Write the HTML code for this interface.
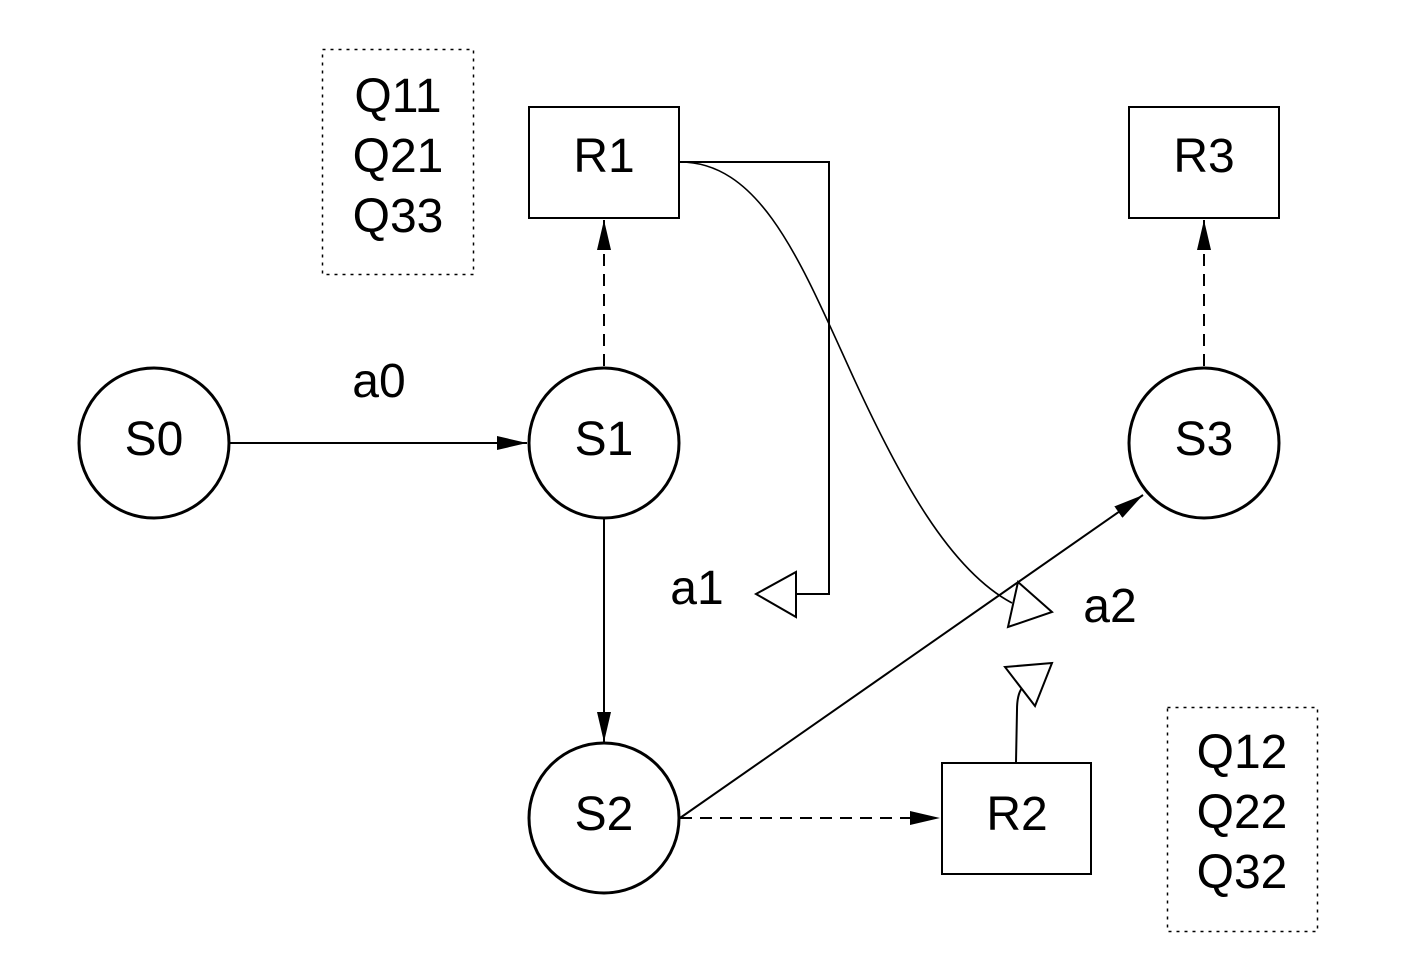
<!DOCTYPE html>
<html><head><meta charset="utf-8"><style>
html,body{margin:0;padding:0;background:#fff}
svg{display:block}
text{font-family:"Liberation Sans",sans-serif;font-size:48px;fill:#000}
</style></head><body>
<svg width="1403" height="975" viewBox="0 0 1403 975" xmlns="http://www.w3.org/2000/svg">
<defs>
<marker id="ah" markerWidth="30" markerHeight="14" refX="30" refY="7" orient="auto" markerUnits="userSpaceOnUse">
<path d="M0,0 L30,7 L0,14 Z" fill="#000"/>
</marker>
</defs>
<g fill="none" stroke="#000">
<circle cx="154" cy="443" r="75" stroke-width="3"/>
<circle cx="604" cy="443" r="75" stroke-width="3"/>
<circle cx="604" cy="818" r="75" stroke-width="3"/>
<circle cx="1204" cy="443" r="75" stroke-width="3"/>
<rect x="529" y="107" width="150" height="111" stroke-width="2"/>
<rect x="1129" y="107" width="150" height="111" stroke-width="2"/>
<rect x="942" y="763" width="149" height="111" stroke-width="2"/>
<rect x="322.5" y="49.5" width="151" height="225" stroke-width="1.5" stroke-dasharray="3,5"/>
<rect x="1167.5" y="707.5" width="150" height="224" stroke-width="1.5" stroke-dasharray="3,5"/>
<line x1="230" y1="443" x2="527" y2="443" stroke-width="2" marker-end="url(#ah)"/>
<line x1="604" y1="519" x2="604" y2="742" stroke-width="2" marker-end="url(#ah)"/>
<line x1="604" y1="366" x2="604" y2="220" stroke-width="2" stroke-dasharray="12,8" marker-end="url(#ah)"/>
<line x1="1204" y1="366" x2="1204" y2="220" stroke-width="2" stroke-dasharray="12,8" marker-end="url(#ah)"/>
<line x1="680" y1="818" x2="940" y2="818" stroke-width="2" stroke-dasharray="12,8" marker-end="url(#ah)"/>
<line x1="680" y1="818" x2="1143" y2="495" stroke-width="2" marker-end="url(#ah)"/>
<polyline points="680,162 829,162 829,594 796,594" stroke-width="2"/>
<path d="M756,594 L796,572 L796,617 Z" stroke-width="2" fill="#fff"/>
<path d="M680,162 C760,162 800,260 850,370 C900,480 950,570 1012,603" stroke-width="1.6"/>
<path d="M1018,582 L1052,612 L1008,627 Z" stroke-width="2" fill="#fff"/>
<path d="M1016,762 L1017,710 C1017,700 1019,692 1022,688" stroke-width="2"/>
<path d="M1005,667 L1052,663 L1035,706 Z" stroke-width="2" fill="#fff"/>
</g>
<g text-anchor="middle">
<text x="154" y="455">S0</text>
<text x="604" y="455">S1</text>
<text x="604" y="830">S2</text>
<text x="1204" y="455">S3</text>
<text x="604" y="172">R1</text>
<text x="1204" y="172">R3</text>
<text x="1017" y="830">R2</text>
<text x="379" y="397">a0</text>
<text x="697" y="604">a1</text>
<text x="1110" y="622">a2</text>
<text x="398" y="112">Q11</text>
<text x="398" y="172">Q21</text>
<text x="398" y="232">Q33</text>
<text x="1242" y="768">Q12</text>
<text x="1242" y="828">Q22</text>
<text x="1242" y="888">Q32</text>
</g>
</svg>
</body></html>
